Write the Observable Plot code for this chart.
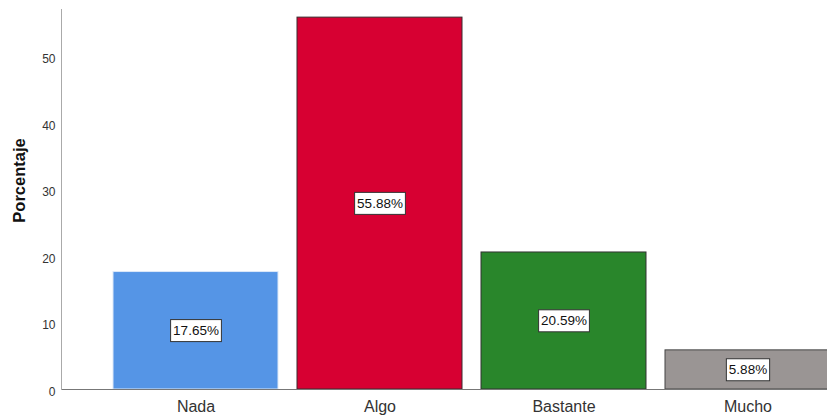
<!DOCTYPE html>
<html>
<head>
<meta charset="utf-8">
<script src="https://cdn.jsdelivr.net/npm/d3@7"></script>
<script src="https://cdn.jsdelivr.net/npm/@observablehq/plot@0.6"></script>
<style>
  html, body { margin: 0; padding: 0; background: white; overflow: hidden; }
</style>
</head>
<body>
<div id="chart"></div>
<script>
const categorias = ["Nada", "Algo", "Bastante", "Mucho"];
const porcentajes = [17.65, 55.88, 20.59, 5.88];
const etiquetas = ["17.65%", "55.88%", "20.59%", "5.88%"];
const colores = ["#5595e6", "#d70032", "#29862b", "#9a9594"];
const bordes = ["#dce8f8", "#3a2a2e", "#333333", "#444444"];
const yTicks = [0, 10, 20, 30, 40, 50];
const tituloY = "Porcentaje";

const data = categorias.map((c, i) => ({
  cat: c, val: porcentajes[i], label: etiquetas[i], fill: colores[i], stroke: bordes[i]
}));

const plot = Plot.plot({
  width: 827,
  height: 416,
  marginLeft: 61,
  marginTop: 9,
  marginBottom: 27,
  marginRight: -56,
  style: { fontFamily: "'Liberation Sans', Arial, sans-serif", background: "white", overflow: "hidden" },
  x: { domain: categorias, paddingInner: 0.103, paddingOuter: 0.276, axis: null },
  y: { domain: [0, 57.1], axis: null },
  color: { type: "identity" },
  marks: [
    Plot.barY(data, { x: "cat", y: "val", fill: "fill", stroke: "stroke", strokeWidth: 1 }),
    Plot.ruleY([0], { stroke: "#777", strokeWidth: 1 }),
    Plot.frame({ anchor: "left", stroke: "#aaa" }),
    Plot.axisY({ ticks: yTicks, tickSize: 0, tickPadding: 6, dy: 2.5, fontSize: 12, fill: "#333", label: null }),
    Plot.axisX({ tickSize: 0, tickPadding: 11, fontSize: 16, fill: "#333", label: null }),
    Plot.text([tituloY], { text: d => d, frameAnchor: "left", textAnchor: "middle", rotate: -90, dx: -42, dy: -19, fontSize: 16.5, fontWeight: "bold", fill: "#111" }),
    Plot.text(data, { x: "cat", y: d => d.val / 2, text: "label", fontSize: 13.5, fill: "#111" })
  ]
});
document.getElementById("chart").appendChild(plot);

// add white boxes with dark border behind bar value labels
const groups = plot.querySelectorAll('g[aria-label="text"]');
const labelGroup = groups[groups.length - 1];
labelGroup.querySelectorAll("text").forEach(t => {
  const b = t.getBBox();
  const r = document.createElementNS("http://www.w3.org/2000/svg", "rect");
  const padX = 2.5, padY = 4;
  r.setAttribute("x", b.x - padX);
  r.setAttribute("y", b.y - padY + 0.5);
  r.setAttribute("width", b.width + 2 * padX);
  r.setAttribute("height", b.height + 2 * padY - 1);
  r.setAttribute("fill", "white");
  r.setAttribute("stroke", "#333");
  r.setAttribute("stroke-width", "1");
  const tr = t.getAttribute("transform");
  if (tr) r.setAttribute("transform", tr);
  t.parentNode.insertBefore(r, t);
});
</script>
</body>
</html>
